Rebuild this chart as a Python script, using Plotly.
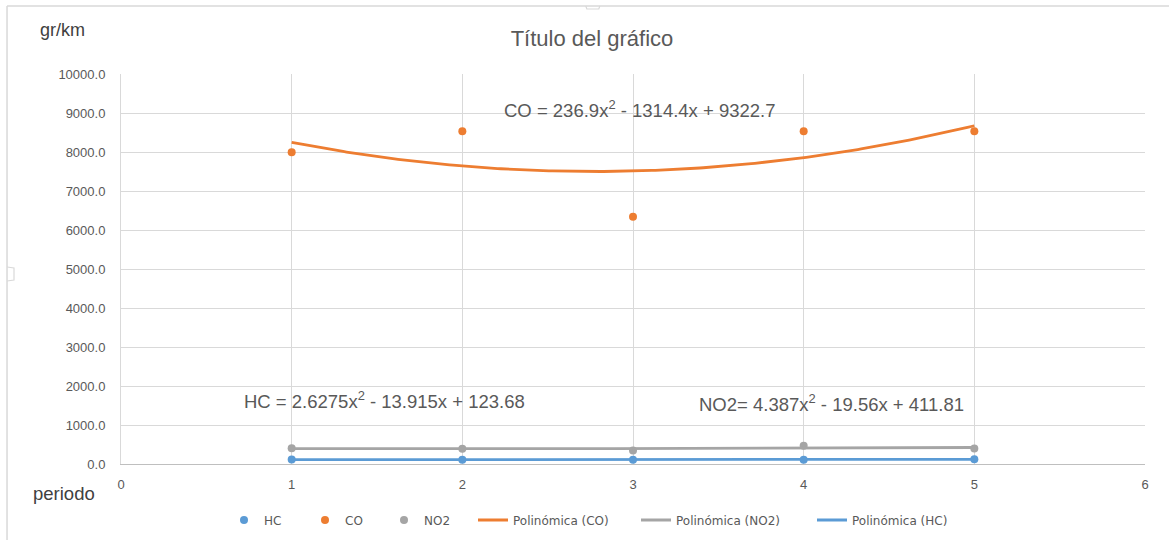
import numpy as np
import plotly.graph_objects as go

# Emission measurements per period (gr/km)
periodo = [1, 2, 3, 4, 5]
hc = [112.5, 106.0, 106.1, 109.6, 120.0]
co = [7996, 8531, 6338, 8531, 8531]
no2 = [404.6, 390.2, 344.6, 467.8, 399.7]

# Second-order polynomial trendline coefficients (a, b, c) for a*x^2 + b*x + c
coef_co = (236.9, -1314.4, 9322.7)
coef_no2 = (4.387, -19.56, 411.81)
coef_hc = (2.6275, -13.915, 123.68)

eq_co = "CO = 236.9x<sup>2</sup> - 1314.4x + 9322.7"
eq_hc = "HC = 2.6275x<sup>2</sup> - 13.915x + 123.68"
eq_no2 = "NO2= 4.387x<sup>2</sup> - 19.56x + 411.81"

y_ticks = [0, 1000, 2000, 3000, 4000, 5000, 6000, 7000, 8000, 9000, 10000]
x_ticks = [0, 1, 2, 3, 4, 5, 6]

BLUE = "#5B9BD5"
ORANGE = "#ED7D31"
GREY = "#A5A5A5"
TEXT = "#595959"
GRID = "#D9D9D9"
FONT = "Liberation Sans"
W, H = 1169, 540


def poly(coef, xs):
    a, b, c = coef
    return a * xs ** 2 + b * xs + c


xs = np.linspace(1, 5, 200)

fig = go.Figure()

# one legend per entry so each entry sits at its own spot on the bottom row
legend_left_px = [224, 305, 384, 473, 636, 812]

marker = dict(size=8)
fig.add_trace(go.Scatter(x=periodo, y=hc, mode="markers", name="HC",
                         marker=dict(color=BLUE, **marker), legend="legend"))
fig.add_trace(go.Scatter(x=periodo, y=co, mode="markers", name="CO",
                         marker=dict(color=ORANGE, **marker), legend="legend2"))
fig.add_trace(go.Scatter(x=periodo, y=no2, mode="markers", name="NO2",
                         marker=dict(color=GREY, **marker), legend="legend3"))
fig.add_trace(go.Scatter(x=xs, y=poly(coef_co, xs), mode="lines",
                         name="Polinómica (CO)",
                         line=dict(color=ORANGE, width=2.8), legend="legend4"))
fig.add_trace(go.Scatter(x=xs, y=poly(coef_no2, xs), mode="lines",
                         name="Polinómica (NO2)",
                         line=dict(color=GREY, width=2.8), legend="legend5"))
fig.add_trace(go.Scatter(x=xs, y=poly(coef_hc, xs), mode="lines",
                         name="Polinómica (HC)",
                         line=dict(color=BLUE, width=2.8), legend="legend6"))

# Trendline equations
eq_font = dict(family=FONT, size=18.5, color=TEXT)
fig.add_annotation(x=2.232, y=9103, text=eq_co, showarrow=False,
                   xanchor="left", yanchor="middle", font=eq_font)
fig.add_annotation(x=0.709, y=1641, text=eq_hc, showarrow=False,
                   xanchor="left", yanchor="middle", font=eq_font)
fig.add_annotation(x=3.375, y=1564, text=eq_no2, showarrow=False,
                   xanchor="left", yanchor="middle", font=eq_font)

# Axis titles placed as free text
fig.add_annotation(xref="paper", yref="paper", x=-0.0332, y=1.1128,
                   text="gr/km", showarrow=False, xanchor="right",
                   yanchor="middle",
                   font=dict(family=FONT, size=18, color="#404040"))
fig.add_annotation(xref="paper", yref="paper", x=-0.0234, y=-0.0744,
                   text="periodo", showarrow=False, xanchor="right",
                   yanchor="middle",
                   font=dict(family=FONT, size=18.5, color="#404040"))

# Chart-area frame (top and left edges) with its small resize handles
FRAME = "#D9D9D9"
fig.add_shape(type="line", xref="paper", yref="paper",
              x0=-0.1113, x1=1.03, y0=1.1744, y1=1.1744,
              line=dict(color=FRAME, width=1.5))
fig.add_shape(type="line", xref="paper", yref="paper",
              x0=-0.1113, x1=-0.1113, y0=-0.2, y1=1.1744,
              line=dict(color=FRAME, width=1.5))
fig.add_shape(type="path", xref="paper", yref="paper",
              path="M 0.4539 1.1744 L 0.4549 1.1667 L 0.4666 1.1667 "
                   "L 0.4676 1.1744",
              line=dict(color=FRAME, width=1.2))
fig.add_shape(type="path", xref="paper", yref="paper",
              path="M -0.1113 0.5051 L -0.1045 0.5026 L -0.1045 0.4718 "
                   "L -0.1113 0.4692",
              line=dict(color=FRAME, width=1.2))

legend_font = dict(family="DejaVu Sans", size=12, color=TEXT)
legends = {}
for i, px in enumerate(legend_left_px):
    key = "legend" if i == 0 else f"legend{i + 1}"
    legends[key] = dict(xref="container", yref="container",
                        x=px / W, xanchor="left",
                        y=1 - 520 / H, yanchor="middle",
                        font=legend_font, itemwidth=30,
                        bgcolor="rgba(0,0,0,0)")

fig.update_layout(
    width=W, height=H,
    margin=dict(l=121, r=24, t=74, b=76, autoexpand=False),
    paper_bgcolor="white", plot_bgcolor="white",
    title=dict(text="Título del gráfico", xref="container", x=592 / W,
               xanchor="center", yref="container", y=1 - 38 / H,
               yanchor="middle",
               font=dict(family=FONT, size=22, color=TEXT)),
    font=dict(family=FONT, color=TEXT, size=13),
    showlegend=True,
    **legends,
    xaxis=dict(range=[0, 6], tickvals=x_ticks, showgrid=True,
               gridcolor=GRID, gridwidth=1, zeroline=False,
               showline=True, linecolor="#BFBFBF", mirror=False,
               ticks="", ticklabelstandoff=8,
               tickfont=dict(size=13, color=TEXT)),
    yaxis=dict(range=[0, 10000], tickvals=y_ticks, tickformat=".1f",
               showgrid=True, gridcolor=GRID, gridwidth=1, zeroline=False,
               showline=True, linecolor=GRID, ticks="",
               ticklabelstandoff=12,
               tickfont=dict(size=13, color=TEXT)),
)

fig.write_html("out.html")
